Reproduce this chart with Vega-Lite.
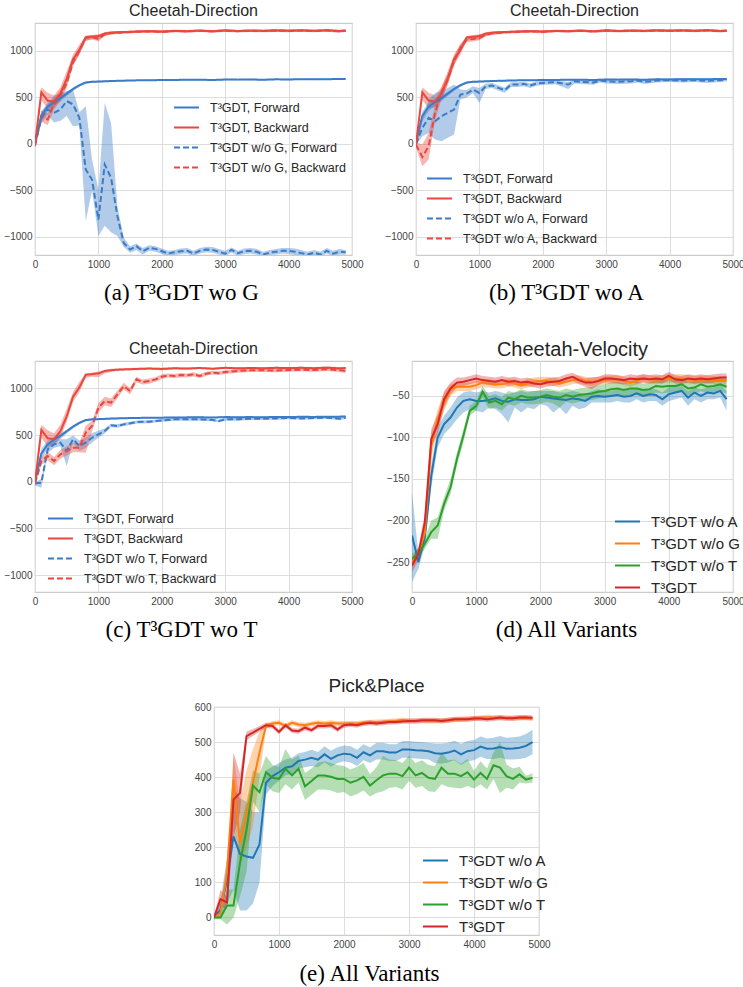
{
"$schema":"https://vega.github.io/schema/vega-lite/v6.json",
"background":"white",
"padding":{"left":3,"top":2,"right":0,"bottom":0},
"config":{
 "view":{"stroke":"#cccccc","strokeWidth":1.2},
 "font":"Liberation Sans",
 "axis":{"labelFont":"Liberation Sans","labelFontSize":10,"labelColor":"#444444","ticks":false,"domain":false,"gridColor":"#dddddd","gridWidth":1,"labelPadding":3,"titleFont":"Liberation Serif","titleFontSize":23,"titleFontWeight":"normal","titleColor":"#000000","titleAlign":"center","titleBaseline":"alphabetic"},
 "axisX":{"labelPadding":4,"labelFlush":false},
 "legend":{"orient":"none","padding":0,"symbolType":"stroke","symbolSize":625,"symbolStrokeWidth":2,"labelFont":"Liberation Sans","labelFontSize":12.5,"labelColor":"#262626","labelOffset":10,"rowPadding":-8},
 "title":{"font":"Liberation Sans","fontWeight":"normal","color":"#262626","fontSize":16,"offset":4,"baseline":"alphabetic"}
},
"datasets":{
"base":[
{"s":"F","x":0,"y":10,"lo":-10,"hi":30},{"s":"F","x":100,"y":300,"lo":240,"hi":350},{"s":"F","x":200,"y":400,"lo":350,"hi":440},{"s":"F","x":300,"y":450,"lo":410,"hi":485},{"s":"F","x":400,"y":490,"lo":455,"hi":520},{"s":"F","x":500,"y":540,"lo":515,"hi":560},{"s":"F","x":600,"y":590,"lo":570,"hi":605},{"s":"F","x":700,"y":630,"lo":615,"hi":645},{"s":"F","x":800,"y":660,"lo":648,"hi":672},{"s":"F","x":900,"y":668,"lo":658,"hi":678},{"s":"F","x":1000,"y":670,"lo":660,"hi":680},{"s":"F","x":1200,"y":676,"lo":667,"hi":685},{"s":"F","x":1400,"y":680,"lo":672,"hi":688},{"s":"F","x":1600,"y":683,"lo":675,"hi":691},{"s":"F","x":1800,"y":685,"lo":677,"hi":693},{"s":"F","x":2000,"y":686,"lo":678,"hi":694},{"s":"F","x":2200,"y":688,"lo":680,"hi":696},{"s":"F","x":2400,"y":689,"lo":681,"hi":697},{"s":"F","x":2600,"y":690,"lo":682,"hi":698},{"s":"F","x":2800,"y":687,"lo":679,"hi":695},{"s":"F","x":3000,"y":692,"lo":684,"hi":700},{"s":"F","x":3200,"y":691,"lo":683,"hi":699},{"s":"F","x":3400,"y":692,"lo":684,"hi":700},{"s":"F","x":3600,"y":690,"lo":682,"hi":698},{"s":"F","x":3800,"y":694,"lo":686,"hi":702},{"s":"F","x":4000,"y":693,"lo":685,"hi":701},{"s":"F","x":4200,"y":695,"lo":687,"hi":703},{"s":"F","x":4400,"y":694,"lo":686,"hi":702},{"s":"F","x":4600,"y":696,"lo":688,"hi":704},{"s":"F","x":4800,"y":697,"lo":689,"hi":705},{"s":"F","x":4900,"y":698,"lo":690,"hi":706},
{"s":"B","x":0,"y":-5,"lo":-40,"hi":30},{"s":"B","x":100,"y":555,"lo":470,"hi":610},{"s":"B","x":200,"y":465,"lo":380,"hi":550},{"s":"B","x":300,"y":455,"lo":390,"hi":520},{"s":"B","x":400,"y":540,"lo":470,"hi":610},{"s":"B","x":500,"y":700,"lo":640,"hi":780},{"s":"B","x":600,"y":910,"lo":850,"hi":960},{"s":"B","x":700,"y":1010,"lo":960,"hi":1070},{"s":"B","x":800,"y":1145,"lo":1110,"hi":1160},{"s":"B","x":900,"y":1152,"lo":1125,"hi":1170},{"s":"B","x":1000,"y":1160,"lo":1120,"hi":1180},{"s":"B","x":1100,"y":1185,"lo":1160,"hi":1200},{"s":"B","x":1200,"y":1195,"lo":1175,"hi":1210},{"s":"B","x":1300,"y":1200,"lo":1185,"hi":1212},{"s":"B","x":1400,"y":1203,"lo":1190,"hi":1215},{"s":"B","x":1500,"y":1205,"lo":1192,"hi":1218},{"s":"B","x":1600,"y":1208,"lo":1195,"hi":1220},{"s":"B","x":1800,"y":1212,"lo":1200,"hi":1224},{"s":"B","x":2000,"y":1208,"lo":1194,"hi":1220},{"s":"B","x":2200,"y":1215,"lo":1203,"hi":1227},{"s":"B","x":2400,"y":1212,"lo":1200,"hi":1224},{"s":"B","x":2600,"y":1218,"lo":1206,"hi":1230},{"s":"B","x":2800,"y":1210,"lo":1198,"hi":1222},{"s":"B","x":3000,"y":1220,"lo":1208,"hi":1232},{"s":"B","x":3200,"y":1214,"lo":1202,"hi":1226},{"s":"B","x":3400,"y":1218,"lo":1206,"hi":1230},{"s":"B","x":3600,"y":1215,"lo":1203,"hi":1227},{"s":"B","x":3800,"y":1220,"lo":1208,"hi":1232},{"s":"B","x":4000,"y":1217,"lo":1205,"hi":1229},{"s":"B","x":4200,"y":1220,"lo":1208,"hi":1232},{"s":"B","x":4400,"y":1216,"lo":1204,"hi":1228},{"s":"B","x":4600,"y":1222,"lo":1210,"hi":1234},{"s":"B","x":4800,"y":1214,"lo":1200,"hi":1228},{"s":"B","x":4900,"y":1218,"lo":1206,"hi":1230}
],
"woG":[
{"s":"VF","x":0,"y":-5,"lo":-40,"hi":30},{"s":"VF","x":100,"y":280,"lo":220,"hi":340},{"s":"VF","x":200,"y":370,"lo":310,"hi":430},{"s":"VF","x":300,"y":333,"lo":230,"hi":520},{"s":"VF","x":400,"y":370,"lo":250,"hi":540},{"s":"VF","x":500,"y":460,"lo":300,"hi":570},{"s":"VF","x":600,"y":425,"lo":190,"hi":585},{"s":"VF","x":700,"y":280,"lo":200,"hi":340},{"s":"VF","x":800,"y":-275,"lo":-830,"hi":405},{"s":"VF","x":900,"y":-385,"lo":-500,"hi":-170},{"s":"VF","x":1000,"y":-815,"lo":-990,"hi":-490},{"s":"VF","x":1100,"y":-222,"lo":-880,"hi":440},{"s":"VF","x":1200,"y":-365,"lo":-950,"hi":225},{"s":"VF","x":1300,"y":-778,"lo":-990,"hi":-670},{"s":"VF","x":1400,"y":-1065,"lo":-1110,"hi":-1010},{"s":"VF","x":1500,"y":-1136,"lo":-1170,"hi":-1100},{"s":"VF","x":1600,"y":-1100,"lo":-1140,"hi":-1070},{"s":"VF","x":1700,"y":-1154,"lo":-1190,"hi":-1120},{"s":"VF","x":1800,"y":-1118,"lo":-1150,"hi":-1090},{"s":"VF","x":1900,"y":-1129,"lo":-1160,"hi":-1100},{"s":"VF","x":2000,"y":-1154,"lo":-1185,"hi":-1125},{"s":"VF","x":2100,"y":-1179,"lo":-1200,"hi":-1150},{"s":"VF","x":2200,"y":-1165,"lo":-1195,"hi":-1140},{"s":"VF","x":2300,"y":-1154,"lo":-1185,"hi":-1125},{"s":"VF","x":2400,"y":-1150,"lo":-1180,"hi":-1120},{"s":"VF","x":2500,"y":-1179,"lo":-1205,"hi":-1150},{"s":"VF","x":2600,"y":-1150,"lo":-1180,"hi":-1120},{"s":"VF","x":2700,"y":-1136,"lo":-1165,"hi":-1105},{"s":"VF","x":2800,"y":-1140,"lo":-1170,"hi":-1110},{"s":"VF","x":2900,"y":-1160,"lo":-1190,"hi":-1130},{"s":"VF","x":3000,"y":-1180,"lo":-1205,"hi":-1150},{"s":"VF","x":3100,"y":-1140,"lo":-1170,"hi":-1115},{"s":"VF","x":3200,"y":-1175,"lo":-1200,"hi":-1150},{"s":"VF","x":3300,"y":-1154,"lo":-1185,"hi":-1125},{"s":"VF","x":3400,"y":-1150,"lo":-1180,"hi":-1120},{"s":"VF","x":3500,"y":-1160,"lo":-1190,"hi":-1130},{"s":"VF","x":3600,"y":-1190,"lo":-1210,"hi":-1160},{"s":"VF","x":3700,"y":-1170,"lo":-1195,"hi":-1140},{"s":"VF","x":3800,"y":-1160,"lo":-1190,"hi":-1130},{"s":"VF","x":3900,"y":-1150,"lo":-1180,"hi":-1120},{"s":"VF","x":4000,"y":-1150,"lo":-1185,"hi":-1120},{"s":"VF","x":4100,"y":-1160,"lo":-1195,"hi":-1125},{"s":"VF","x":4200,"y":-1175,"lo":-1205,"hi":-1140},{"s":"VF","x":4300,"y":-1190,"lo":-1210,"hi":-1160},{"s":"VF","x":4400,"y":-1170,"lo":-1200,"hi":-1140},{"s":"VF","x":4500,"y":-1190,"lo":-1210,"hi":-1160},{"s":"VF","x":4600,"y":-1150,"lo":-1180,"hi":-1120},{"s":"VF","x":4700,"y":-1180,"lo":-1205,"hi":-1150},{"s":"VF","x":4800,"y":-1160,"lo":-1190,"hi":-1130},{"s":"VF","x":4900,"y":-1165,"lo":-1190,"hi":-1140},
{"s":"VB","x":0,"y":-20,"lo":-50,"hi":10},{"s":"VB","x":100,"y":300,"lo":240,"hi":360},{"s":"VB","x":200,"y":262,"lo":200,"hi":330},{"s":"VB","x":300,"y":430,"lo":370,"hi":490},{"s":"VB","x":400,"y":520,"lo":460,"hi":580},{"s":"VB","x":500,"y":650,"lo":600,"hi":700},{"s":"VB","x":600,"y":880,"lo":840,"hi":920},{"s":"VB","x":700,"y":1000,"lo":960,"hi":1040},{"s":"VB","x":800,"y":1140,"lo":1110,"hi":1165},{"s":"VB","x":900,"y":1150,"lo":1125,"hi":1170},{"s":"VB","x":1000,"y":1130,"lo":1100,"hi":1160},{"s":"VB","x":1100,"y":1180,"lo":1160,"hi":1200},{"s":"VB","x":1200,"y":1192,"lo":1175,"hi":1208},{"s":"VB","x":1400,"y":1200,"lo":1185,"hi":1214},{"s":"VB","x":1600,"y":1206,"lo":1192,"hi":1220},{"s":"VB","x":1800,"y":1210,"lo":1196,"hi":1224},{"s":"VB","x":2000,"y":1205,"lo":1190,"hi":1220},{"s":"VB","x":2200,"y":1214,"lo":1200,"hi":1228},{"s":"VB","x":2400,"y":1210,"lo":1196,"hi":1224},{"s":"VB","x":2600,"y":1216,"lo":1202,"hi":1230},{"s":"VB","x":2800,"y":1212,"lo":1198,"hi":1226},{"s":"VB","x":3000,"y":1218,"lo":1204,"hi":1232},{"s":"VB","x":3200,"y":1212,"lo":1198,"hi":1226},{"s":"VB","x":3400,"y":1216,"lo":1202,"hi":1230},{"s":"VB","x":3600,"y":1214,"lo":1200,"hi":1228},{"s":"VB","x":3800,"y":1218,"lo":1204,"hi":1232},{"s":"VB","x":4000,"y":1215,"lo":1201,"hi":1229},{"s":"VB","x":4200,"y":1219,"lo":1205,"hi":1233},{"s":"VB","x":4400,"y":1214,"lo":1200,"hi":1228},{"s":"VB","x":4600,"y":1220,"lo":1206,"hi":1234},{"s":"VB","x":4800,"y":1210,"lo":1196,"hi":1224},{"s":"VB","x":4900,"y":1216,"lo":1202,"hi":1230}
],
"woA":[
{"s":"VF","x":0,"y":0,"lo":-20,"hi":20},{"s":"VF","x":100,"y":172,"lo":82,"hi":262},{"s":"VF","x":200,"y":280,"lo":118,"hi":477},{"s":"VF","x":300,"y":244,"lo":47,"hi":548},{"s":"VF","x":400,"y":297,"lo":29,"hi":566},{"s":"VF","x":500,"y":333,"lo":65,"hi":602},{"s":"VF","x":600,"y":369,"lo":100,"hi":638},{"s":"VF","x":700,"y":530,"lo":477,"hi":584},{"s":"VF","x":800,"y":541,"lo":500,"hi":580},{"s":"VF","x":900,"y":584,"lo":545,"hi":620},{"s":"VF","x":1000,"y":548,"lo":441,"hi":600},{"s":"VF","x":1100,"y":620,"lo":590,"hi":650},{"s":"VF","x":1200,"y":627,"lo":600,"hi":655},{"s":"VF","x":1300,"y":602,"lo":575,"hi":630},{"s":"VF","x":1400,"y":577,"lo":550,"hi":605},{"s":"VF","x":1500,"y":638,"lo":612,"hi":662},{"s":"VF","x":1600,"y":638,"lo":612,"hi":662},{"s":"VF","x":1700,"y":645,"lo":620,"hi":668},{"s":"VF","x":1800,"y":627,"lo":600,"hi":652},{"s":"VF","x":1900,"y":649,"lo":625,"hi":672},{"s":"VF","x":2000,"y":656,"lo":632,"hi":678},{"s":"VF","x":2200,"y":663,"lo":640,"hi":685},{"s":"VF","x":2400,"y":638,"lo":590,"hi":665},{"s":"VF","x":2500,"y":674,"lo":650,"hi":696},{"s":"VF","x":2600,"y":667,"lo":645,"hi":690},{"s":"VF","x":2800,"y":660,"lo":635,"hi":684},{"s":"VF","x":2900,"y":681,"lo":660,"hi":702},{"s":"VF","x":3000,"y":674,"lo":650,"hi":696},{"s":"VF","x":3200,"y":667,"lo":645,"hi":690},{"s":"VF","x":3400,"y":674,"lo":650,"hi":696},{"s":"VF","x":3500,"y":681,"lo":660,"hi":702},{"s":"VF","x":3600,"y":667,"lo":645,"hi":690},{"s":"VF","x":3800,"y":681,"lo":660,"hi":702},{"s":"VF","x":4000,"y":685,"lo":665,"hi":705},{"s":"VF","x":4200,"y":681,"lo":660,"hi":702},{"s":"VF","x":4400,"y":685,"lo":665,"hi":705},{"s":"VF","x":4600,"y":678,"lo":655,"hi":700},{"s":"VF","x":4800,"y":685,"lo":665,"hi":705},{"s":"VF","x":4900,"y":692,"lo":672,"hi":712},
{"s":"VB","x":0,"y":-10,"lo":-40,"hi":20},{"s":"VB","x":100,"y":-140,"lo":-240,"hi":-7},{"s":"VB","x":200,"y":-25,"lo":-168,"hi":118},{"s":"VB","x":300,"y":333,"lo":250,"hi":420},{"s":"VB","x":400,"y":548,"lo":480,"hi":610},{"s":"VB","x":500,"y":692,"lo":630,"hi":750},{"s":"VB","x":600,"y":889,"lo":840,"hi":940},{"s":"VB","x":700,"y":1032,"lo":990,"hi":1075},{"s":"VB","x":800,"y":1122,"lo":1095,"hi":1150},{"s":"VB","x":900,"y":1129,"lo":1100,"hi":1155},{"s":"VB","x":1000,"y":1140,"lo":1115,"hi":1165},{"s":"VB","x":1100,"y":1175,"lo":1155,"hi":1195},{"s":"VB","x":1200,"y":1190,"lo":1172,"hi":1206},{"s":"VB","x":1400,"y":1200,"lo":1185,"hi":1214},{"s":"VB","x":1600,"y":1205,"lo":1190,"hi":1220},{"s":"VB","x":1800,"y":1210,"lo":1196,"hi":1224},{"s":"VB","x":2000,"y":1206,"lo":1190,"hi":1220},{"s":"VB","x":2200,"y":1214,"lo":1200,"hi":1228},{"s":"VB","x":2400,"y":1211,"lo":1197,"hi":1225},{"s":"VB","x":2600,"y":1216,"lo":1202,"hi":1230},{"s":"VB","x":2800,"y":1210,"lo":1196,"hi":1224},{"s":"VB","x":3000,"y":1218,"lo":1204,"hi":1232},{"s":"VB","x":3200,"y":1213,"lo":1199,"hi":1227},{"s":"VB","x":3400,"y":1217,"lo":1203,"hi":1231},{"s":"VB","x":3600,"y":1214,"lo":1200,"hi":1228},{"s":"VB","x":3800,"y":1219,"lo":1205,"hi":1233},{"s":"VB","x":4000,"y":1216,"lo":1202,"hi":1230},{"s":"VB","x":4200,"y":1219,"lo":1205,"hi":1233},{"s":"VB","x":4400,"y":1215,"lo":1201,"hi":1229},{"s":"VB","x":4600,"y":1221,"lo":1207,"hi":1235},{"s":"VB","x":4800,"y":1212,"lo":1198,"hi":1226},{"s":"VB","x":4900,"y":1217,"lo":1203,"hi":1231}
],
"woT":[
{"s":"VF","x":0,"y":-18,"lo":-40,"hi":0},{"s":"VF","x":100,"y":-11,"lo":-64,"hi":25},{"s":"VF","x":200,"y":346,"lo":310,"hi":380},{"s":"VF","x":300,"y":400,"lo":360,"hi":440},{"s":"VF","x":400,"y":418,"lo":380,"hi":455},{"s":"VF","x":500,"y":329,"lo":168,"hi":454},{"s":"VF","x":600,"y":454,"lo":410,"hi":495},{"s":"VF","x":700,"y":382,"lo":330,"hi":440},{"s":"VF","x":800,"y":418,"lo":360,"hi":475},{"s":"VF","x":900,"y":471,"lo":420,"hi":520},{"s":"VF","x":1000,"y":507,"lo":470,"hi":545},{"s":"VF","x":1100,"y":543,"lo":515,"hi":570},{"s":"VF","x":1200,"y":604,"lo":585,"hi":622},{"s":"VF","x":1300,"y":596,"lo":578,"hi":614},{"s":"VF","x":1400,"y":614,"lo":597,"hi":631},{"s":"VF","x":1500,"y":625,"lo":608,"hi":642},{"s":"VF","x":1600,"y":639,"lo":623,"hi":655},{"s":"VF","x":1800,"y":643,"lo":627,"hi":659},{"s":"VF","x":2000,"y":657,"lo":642,"hi":672},{"s":"VF","x":2200,"y":668,"lo":654,"hi":682},{"s":"VF","x":2400,"y":668,"lo":654,"hi":682},{"s":"VF","x":2600,"y":668,"lo":654,"hi":682},{"s":"VF","x":2800,"y":661,"lo":647,"hi":675},{"s":"VF","x":2900,"y":650,"lo":636,"hi":664},{"s":"VF","x":3000,"y":668,"lo":654,"hi":682},{"s":"VF","x":3200,"y":668,"lo":654,"hi":682},{"s":"VF","x":3400,"y":675,"lo":661,"hi":689},{"s":"VF","x":3600,"y":675,"lo":661,"hi":689},{"s":"VF","x":3800,"y":678,"lo":664,"hi":692},{"s":"VF","x":4000,"y":682,"lo":668,"hi":696},{"s":"VF","x":4200,"y":678,"lo":664,"hi":692},{"s":"VF","x":4400,"y":682,"lo":668,"hi":696},{"s":"VF","x":4600,"y":686,"lo":672,"hi":700},{"s":"VF","x":4800,"y":675,"lo":661,"hi":689},{"s":"VF","x":4900,"y":686,"lo":672,"hi":700},
{"s":"VB","x":0,"y":-20,"lo":-50,"hi":10},{"s":"VB","x":100,"y":221,"lo":180,"hi":260},{"s":"VB","x":200,"y":275,"lo":230,"hi":320},{"s":"VB","x":300,"y":221,"lo":175,"hi":265},{"s":"VB","x":400,"y":293,"lo":245,"hi":340},{"s":"VB","x":500,"y":329,"lo":280,"hi":380},{"s":"VB","x":600,"y":364,"lo":315,"hi":415},{"s":"VB","x":700,"y":364,"lo":315,"hi":415},{"s":"VB","x":800,"y":525,"lo":311,"hi":600},{"s":"VB","x":900,"y":596,"lo":540,"hi":650},{"s":"VB","x":1000,"y":793,"lo":740,"hi":840},{"s":"VB","x":1100,"y":864,"lo":820,"hi":910},{"s":"VB","x":1200,"y":846,"lo":800,"hi":890},{"s":"VB","x":1300,"y":936,"lo":895,"hi":975},{"s":"VB","x":1400,"y":1025,"lo":990,"hi":1060},{"s":"VB","x":1500,"y":971,"lo":935,"hi":1005},{"s":"VB","x":1600,"y":1096,"lo":1065,"hi":1125},{"s":"VB","x":1700,"y":1068,"lo":1040,"hi":1095},{"s":"VB","x":1800,"y":1079,"lo":1050,"hi":1105},{"s":"VB","x":1900,"y":1096,"lo":1070,"hi":1120},{"s":"VB","x":2000,"y":1125,"lo":1100,"hi":1150},{"s":"VB","x":2100,"y":1139,"lo":1115,"hi":1160},{"s":"VB","x":2200,"y":1132,"lo":1108,"hi":1155},{"s":"VB","x":2300,"y":1143,"lo":1120,"hi":1165},{"s":"VB","x":2400,"y":1139,"lo":1115,"hi":1160},{"s":"VB","x":2500,"y":1150,"lo":1128,"hi":1172},{"s":"VB","x":2600,"y":1132,"lo":1110,"hi":1155},{"s":"VB","x":2700,"y":1157,"lo":1135,"hi":1178},{"s":"VB","x":2800,"y":1168,"lo":1148,"hi":1188},{"s":"VB","x":2900,"y":1162,"lo":1142,"hi":1182},{"s":"VB","x":3000,"y":1175,"lo":1155,"hi":1195},{"s":"VB","x":3200,"y":1186,"lo":1166,"hi":1205},{"s":"VB","x":3400,"y":1193,"lo":1175,"hi":1210},{"s":"VB","x":3600,"y":1193,"lo":1175,"hi":1210},{"s":"VB","x":3800,"y":1190,"lo":1172,"hi":1208},{"s":"VB","x":4000,"y":1196,"lo":1178,"hi":1214},{"s":"VB","x":4200,"y":1200,"lo":1182,"hi":1218},{"s":"VB","x":4400,"y":1196,"lo":1178,"hi":1214},{"s":"VB","x":4600,"y":1204,"lo":1186,"hi":1222},{"s":"VB","x":4800,"y":1193,"lo":1175,"hi":1211},{"s":"VB","x":4900,"y":1189,"lo":1165,"hi":1210}
],
"vel":[
{"s":"A","x":0,"y":-218,"lo":-274,"hi":-166},{"s":"A","x":100,"y":-250,"lo":-258,"hi":-240},{"s":"A","x":200,"y":-220,"lo":-230,"hi":-210},{"s":"A","x":300,"y":-146,"lo":-160,"hi":-132},{"s":"A","x":400,"y":-100,"lo":-112,"hi":-88},{"s":"A","x":500,"y":-84,"lo":-96,"hi":-74},{"s":"A","x":600,"y":-76,"lo":-88,"hi":-64},{"s":"A","x":700,"y":-64,"lo":-78,"hi":-52},{"s":"A","x":800,"y":-56,"lo":-70,"hi":-46},{"s":"A","x":900,"y":-54,"lo":-66,"hi":-44},{"s":"A","x":1000,"y":-56,"lo":-68,"hi":-46},{"s":"A","x":1100,"y":-56,"lo":-70,"hi":-44},{"s":"A","x":1200,"y":-55,"lo":-64,"hi":-46},{"s":"A","x":1300,"y":-53,"lo":-66,"hi":-44},{"s":"A","x":1400,"y":-56,"lo":-72,"hi":-46},{"s":"A","x":1500,"y":-57,"lo":-82,"hi":-48},{"s":"A","x":1600,"y":-54,"lo":-64,"hi":-46},{"s":"A","x":1700,"y":-55,"lo":-70,"hi":-44},{"s":"A","x":1800,"y":-55,"lo":-64,"hi":-46},{"s":"A","x":1900,"y":-54,"lo":-66,"hi":-44},{"s":"A","x":2000,"y":-51,"lo":-60,"hi":-44},{"s":"A","x":2100,"y":-52,"lo":-62,"hi":-44},{"s":"A","x":2200,"y":-53,"lo":-70,"hi":-44},{"s":"A","x":2300,"y":-54,"lo":-64,"hi":-46},{"s":"A","x":2400,"y":-55,"lo":-72,"hi":-46},{"s":"A","x":2500,"y":-53,"lo":-62,"hi":-44},{"s":"A","x":2600,"y":-54,"lo":-66,"hi":-46},{"s":"A","x":2700,"y":-56,"lo":-64,"hi":-48},{"s":"A","x":2800,"y":-51,"lo":-58,"hi":-44},{"s":"A","x":2900,"y":-50,"lo":-58,"hi":-42},{"s":"A","x":3000,"y":-51,"lo":-58,"hi":-44},{"s":"A","x":3100,"y":-50,"lo":-58,"hi":-44},{"s":"A","x":3200,"y":-49,"lo":-56,"hi":-42},{"s":"A","x":3300,"y":-51,"lo":-58,"hi":-44},{"s":"A","x":3400,"y":-50,"lo":-58,"hi":-42},{"s":"A","x":3500,"y":-47,"lo":-54,"hi":-40},{"s":"A","x":3600,"y":-50,"lo":-58,"hi":-42},{"s":"A","x":3700,"y":-48,"lo":-56,"hi":-42},{"s":"A","x":3800,"y":-49,"lo":-56,"hi":-42},{"s":"A","x":3900,"y":-54,"lo":-62,"hi":-46},{"s":"A","x":4000,"y":-48,"lo":-56,"hi":-40},{"s":"A","x":4100,"y":-46,"lo":-54,"hi":-38},{"s":"A","x":4200,"y":-44,"lo":-52,"hi":-38},{"s":"A","x":4300,"y":-52,"lo":-62,"hi":-44},{"s":"A","x":4400,"y":-46,"lo":-54,"hi":-40},{"s":"A","x":4500,"y":-50,"lo":-58,"hi":-42},{"s":"A","x":4600,"y":-46,"lo":-54,"hi":-40},{"s":"A","x":4700,"y":-47,"lo":-54,"hi":-40},{"s":"A","x":4800,"y":-44,"lo":-52,"hi":-36},{"s":"A","x":4900,"y":-54,"lo":-68,"hi":-44},
{"s":"G","x":0,"y":-250,"lo":-256,"hi":-244},{"s":"G","x":100,"y":-240,"lo":-246,"hi":-234},{"s":"G","x":200,"y":-215,"lo":-222,"hi":-205},{"s":"G","x":300,"y":-110,"lo":-125,"hi":-95},{"s":"G","x":400,"y":-78,"lo":-90,"hi":-66},{"s":"G","x":500,"y":-58,"lo":-68,"hi":-46},{"s":"G","x":600,"y":-42,"lo":-50,"hi":-36},{"s":"G","x":700,"y":-39,"lo":-44,"hi":-34},{"s":"G","x":800,"y":-39,"lo":-44,"hi":-34},{"s":"G","x":900,"y":-39,"lo":-44,"hi":-34},{"s":"G","x":1000,"y":-37,"lo":-42,"hi":-32},{"s":"G","x":1100,"y":-34,"lo":-40,"hi":-30},{"s":"G","x":1200,"y":-35,"lo":-40,"hi":-30},{"s":"G","x":1300,"y":-36,"lo":-41,"hi":-31},{"s":"G","x":1400,"y":-36,"lo":-41,"hi":-31},{"s":"G","x":1500,"y":-34,"lo":-39,"hi":-29},{"s":"G","x":1600,"y":-35,"lo":-40,"hi":-30},{"s":"G","x":1700,"y":-37,"lo":-42,"hi":-32},{"s":"G","x":1800,"y":-35,"lo":-40,"hi":-30},{"s":"G","x":1900,"y":-33,"lo":-38,"hi":-28},{"s":"G","x":2000,"y":-32,"lo":-37,"hi":-27},{"s":"G","x":2100,"y":-32,"lo":-37,"hi":-27},{"s":"G","x":2200,"y":-33,"lo":-38,"hi":-28},{"s":"G","x":2300,"y":-35,"lo":-40,"hi":-30},{"s":"G","x":2400,"y":-33,"lo":-38,"hi":-28},{"s":"G","x":2500,"y":-31,"lo":-36,"hi":-26},{"s":"G","x":2600,"y":-30,"lo":-35,"hi":-25},{"s":"G","x":2700,"y":-32,"lo":-37,"hi":-27},{"s":"G","x":2800,"y":-33,"lo":-38,"hi":-28},{"s":"G","x":2900,"y":-32,"lo":-37,"hi":-27},{"s":"G","x":3000,"y":-31,"lo":-36,"hi":-26},{"s":"G","x":3200,"y":-30,"lo":-35,"hi":-25},{"s":"G","x":3400,"y":-34,"lo":-39,"hi":-29},{"s":"G","x":3600,"y":-29,"lo":-34,"hi":-24},{"s":"G","x":3800,"y":-31,"lo":-36,"hi":-26},{"s":"G","x":4000,"y":-29,"lo":-34,"hi":-24},{"s":"G","x":4200,"y":-29,"lo":-34,"hi":-24},{"s":"G","x":4400,"y":-31,"lo":-36,"hi":-26},{"s":"G","x":4600,"y":-30,"lo":-35,"hi":-25},{"s":"G","x":4800,"y":-32,"lo":-37,"hi":-27},{"s":"G","x":4900,"y":-31,"lo":-36,"hi":-26},
{"s":"T","x":0,"y":-246,"lo":-252,"hi":-240},{"s":"T","x":100,"y":-240,"lo":-246,"hi":-234},{"s":"T","x":200,"y":-228,"lo":-234,"hi":-222},{"s":"T","x":300,"y":-214,"lo":-222,"hi":-200},{"s":"T","x":400,"y":-206,"lo":-222,"hi":-196},{"s":"T","x":500,"y":-180,"lo":-188,"hi":-172},{"s":"T","x":600,"y":-160,"lo":-168,"hi":-150},{"s":"T","x":700,"y":-126,"lo":-134,"hi":-118},{"s":"T","x":800,"y":-98,"lo":-106,"hi":-90},{"s":"T","x":900,"y":-68,"lo":-74,"hi":-62},{"s":"T","x":1000,"y":-62,"lo":-68,"hi":-56},{"s":"T","x":1100,"y":-45,"lo":-52,"hi":-38},{"s":"T","x":1200,"y":-58,"lo":-66,"hi":-50},{"s":"T","x":1300,"y":-56,"lo":-64,"hi":-48},{"s":"T","x":1400,"y":-60,"lo":-68,"hi":-52},{"s":"T","x":1500,"y":-52,"lo":-60,"hi":-44},{"s":"T","x":1600,"y":-54,"lo":-62,"hi":-46},{"s":"T","x":1700,"y":-50,"lo":-58,"hi":-42},{"s":"T","x":1800,"y":-52,"lo":-60,"hi":-44},{"s":"T","x":1900,"y":-52,"lo":-60,"hi":-44},{"s":"T","x":2000,"y":-51,"lo":-59,"hi":-43},{"s":"T","x":2100,"y":-49,"lo":-57,"hi":-41},{"s":"T","x":2200,"y":-51,"lo":-59,"hi":-43},{"s":"T","x":2300,"y":-52,"lo":-64,"hi":-44},{"s":"T","x":2400,"y":-49,"lo":-57,"hi":-41},{"s":"T","x":2500,"y":-51,"lo":-59,"hi":-43},{"s":"T","x":2600,"y":-49,"lo":-57,"hi":-41},{"s":"T","x":2700,"y":-48,"lo":-56,"hi":-40},{"s":"T","x":2800,"y":-47,"lo":-55,"hi":-39},{"s":"T","x":2900,"y":-45,"lo":-53,"hi":-37},{"s":"T","x":3000,"y":-44,"lo":-52,"hi":-36},{"s":"T","x":3100,"y":-42,"lo":-50,"hi":-34},{"s":"T","x":3200,"y":-41,"lo":-49,"hi":-33},{"s":"T","x":3300,"y":-43,"lo":-51,"hi":-35},{"s":"T","x":3400,"y":-41,"lo":-49,"hi":-33},{"s":"T","x":3500,"y":-41,"lo":-49,"hi":-33},{"s":"T","x":3600,"y":-43,"lo":-51,"hi":-35},{"s":"T","x":3700,"y":-42,"lo":-50,"hi":-34},{"s":"T","x":3800,"y":-38,"lo":-46,"hi":-30},{"s":"T","x":3900,"y":-39,"lo":-47,"hi":-31},{"s":"T","x":4000,"y":-38,"lo":-46,"hi":-30},{"s":"T","x":4100,"y":-38,"lo":-46,"hi":-30},{"s":"T","x":4200,"y":-36,"lo":-44,"hi":-28},{"s":"T","x":4300,"y":-41,"lo":-49,"hi":-33},{"s":"T","x":4400,"y":-40,"lo":-48,"hi":-32},{"s":"T","x":4500,"y":-36,"lo":-44,"hi":-28},{"s":"T","x":4600,"y":-39,"lo":-47,"hi":-31},{"s":"T","x":4700,"y":-38,"lo":-46,"hi":-30},{"s":"T","x":4800,"y":-36,"lo":-44,"hi":-28},{"s":"T","x":4900,"y":-39,"lo":-47,"hi":-31},
{"s":"R","x":0,"y":-254,"lo":-262,"hi":-246},{"s":"R","x":100,"y":-240,"lo":-248,"hi":-232},{"s":"R","x":200,"y":-202,"lo":-212,"hi":-192},{"s":"R","x":300,"y":-102,"lo":-112,"hi":-90},{"s":"R","x":400,"y":-84,"lo":-96,"hi":-72},{"s":"R","x":500,"y":-54,"lo":-64,"hi":-44},{"s":"R","x":600,"y":-41,"lo":-48,"hi":-34},{"s":"R","x":700,"y":-34,"lo":-40,"hi":-28},{"s":"R","x":800,"y":-33,"lo":-38,"hi":-28},{"s":"R","x":900,"y":-31,"lo":-36,"hi":-26},{"s":"R","x":1000,"y":-29,"lo":-34,"hi":-24},{"s":"R","x":1100,"y":-31,"lo":-36,"hi":-26},{"s":"R","x":1200,"y":-32,"lo":-37,"hi":-27},{"s":"R","x":1300,"y":-33,"lo":-38,"hi":-28},{"s":"R","x":1400,"y":-31,"lo":-36,"hi":-26},{"s":"R","x":1500,"y":-33,"lo":-38,"hi":-28},{"s":"R","x":1600,"y":-32,"lo":-37,"hi":-27},{"s":"R","x":1700,"y":-34,"lo":-39,"hi":-29},{"s":"R","x":1800,"y":-33,"lo":-38,"hi":-28},{"s":"R","x":1900,"y":-35,"lo":-40,"hi":-30},{"s":"R","x":2000,"y":-36,"lo":-41,"hi":-31},{"s":"R","x":2100,"y":-34,"lo":-39,"hi":-29},{"s":"R","x":2200,"y":-33,"lo":-38,"hi":-28},{"s":"R","x":2300,"y":-32,"lo":-37,"hi":-27},{"s":"R","x":2400,"y":-29,"lo":-34,"hi":-24},{"s":"R","x":2500,"y":-27,"lo":-32,"hi":-22},{"s":"R","x":2600,"y":-31,"lo":-36,"hi":-26},{"s":"R","x":2700,"y":-34,"lo":-39,"hi":-29},{"s":"R","x":2800,"y":-34,"lo":-42,"hi":-28},{"s":"R","x":2900,"y":-32,"lo":-37,"hi":-27},{"s":"R","x":3000,"y":-29,"lo":-34,"hi":-24},{"s":"R","x":3100,"y":-29,"lo":-34,"hi":-24},{"s":"R","x":3200,"y":-30,"lo":-35,"hi":-25},{"s":"R","x":3300,"y":-31,"lo":-36,"hi":-26},{"s":"R","x":3400,"y":-29,"lo":-34,"hi":-24},{"s":"R","x":3500,"y":-30,"lo":-35,"hi":-25},{"s":"R","x":3600,"y":-29,"lo":-34,"hi":-24},{"s":"R","x":3700,"y":-30,"lo":-35,"hi":-25},{"s":"R","x":3800,"y":-29,"lo":-34,"hi":-24},{"s":"R","x":3900,"y":-30,"lo":-35,"hi":-25},{"s":"R","x":4000,"y":-26,"lo":-31,"hi":-21},{"s":"R","x":4100,"y":-30,"lo":-35,"hi":-25},{"s":"R","x":4200,"y":-31,"lo":-36,"hi":-26},{"s":"R","x":4300,"y":-29,"lo":-34,"hi":-24},{"s":"R","x":4400,"y":-30,"lo":-35,"hi":-25},{"s":"R","x":4500,"y":-29,"lo":-34,"hi":-24},{"s":"R","x":4600,"y":-30,"lo":-35,"hi":-25},{"s":"R","x":4700,"y":-29,"lo":-34,"hi":-24},{"s":"R","x":4800,"y":-28,"lo":-33,"hi":-23},{"s":"R","x":4900,"y":-28,"lo":-33,"hi":-23}
],
"pick":[
{"s":"A","x":0,"y":0,"lo":0,"hi":0},{"s":"A","x":100,"y":22,"lo":0,"hi":50},{"s":"A","x":200,"y":108,"lo":40,"hi":170},{"s":"A","x":300,"y":231,"lo":80,"hi":370},{"s":"A","x":400,"y":181,"lo":20,"hi":340},{"s":"A","x":500,"y":174,"lo":20,"hi":330},{"s":"A","x":600,"y":170,"lo":40,"hi":300},{"s":"A","x":700,"y":208,"lo":100,"hi":300},{"s":"A","x":800,"y":384,"lo":350,"hi":420},{"s":"A","x":900,"y":403,"lo":375,"hi":430},{"s":"A","x":1000,"y":414,"lo":390,"hi":440},{"s":"A","x":1100,"y":427,"lo":405,"hi":450},{"s":"A","x":1200,"y":431,"lo":410,"hi":455},{"s":"A","x":1300,"y":446,"lo":425,"hi":468},{"s":"A","x":1400,"y":450,"lo":428,"hi":472},{"s":"A","x":1500,"y":455,"lo":432,"hi":478},{"s":"A","x":1600,"y":450,"lo":428,"hi":472},{"s":"A","x":1700,"y":465,"lo":442,"hi":488},{"s":"A","x":1800,"y":452,"lo":430,"hi":475},{"s":"A","x":1900,"y":462,"lo":440,"hi":485},{"s":"A","x":2000,"y":467,"lo":445,"hi":490},{"s":"A","x":2100,"y":465,"lo":442,"hi":488},{"s":"A","x":2200,"y":455,"lo":432,"hi":478},{"s":"A","x":2300,"y":471,"lo":448,"hi":494},{"s":"A","x":2400,"y":462,"lo":440,"hi":485},{"s":"A","x":2500,"y":474,"lo":450,"hi":498},{"s":"A","x":2600,"y":474,"lo":450,"hi":498},{"s":"A","x":2700,"y":470,"lo":446,"hi":494},{"s":"A","x":2800,"y":470,"lo":446,"hi":494},{"s":"A","x":2900,"y":479,"lo":455,"hi":503},{"s":"A","x":3000,"y":479,"lo":455,"hi":503},{"s":"A","x":3100,"y":477,"lo":453,"hi":501},{"s":"A","x":3200,"y":476,"lo":452,"hi":500},{"s":"A","x":3300,"y":474,"lo":450,"hi":498},{"s":"A","x":3400,"y":468,"lo":440,"hi":496},{"s":"A","x":3500,"y":467,"lo":438,"hi":496},{"s":"A","x":3600,"y":470,"lo":442,"hi":498},{"s":"A","x":3700,"y":476,"lo":448,"hi":504},{"s":"A","x":3800,"y":465,"lo":435,"hi":495},{"s":"A","x":3900,"y":474,"lo":445,"hi":503},{"s":"A","x":4000,"y":477,"lo":448,"hi":506},{"s":"A","x":4100,"y":487,"lo":458,"hi":516},{"s":"A","x":4200,"y":481,"lo":452,"hi":510},{"s":"A","x":4300,"y":482,"lo":452,"hi":512},{"s":"A","x":4400,"y":486,"lo":455,"hi":517},{"s":"A","x":4500,"y":481,"lo":450,"hi":512},{"s":"A","x":4600,"y":482,"lo":450,"hi":514},{"s":"A","x":4700,"y":484,"lo":452,"hi":516},{"s":"A","x":4800,"y":489,"lo":455,"hi":523},{"s":"A","x":4900,"y":500,"lo":465,"hi":535},
{"s":"G","x":0,"y":0,"lo":0,"hi":0},{"s":"G","x":100,"y":12,"lo":2,"hi":22},{"s":"G","x":200,"y":127,"lo":90,"hi":165},{"s":"G","x":300,"y":393,"lo":250,"hi":460},{"s":"G","x":400,"y":212,"lo":150,"hi":330},{"s":"G","x":500,"y":298,"lo":200,"hi":420},{"s":"G","x":600,"y":384,"lo":260,"hi":480},{"s":"G","x":700,"y":470,"lo":400,"hi":530},{"s":"G","x":800,"y":546,"lo":538,"hi":554},{"s":"G","x":900,"y":553,"lo":546,"hi":560},{"s":"G","x":1000,"y":555,"lo":548,"hi":562},{"s":"G","x":1100,"y":546,"lo":539,"hi":553},{"s":"G","x":1200,"y":555,"lo":548,"hi":562},{"s":"G","x":1300,"y":550,"lo":543,"hi":557},{"s":"G","x":1400,"y":548,"lo":541,"hi":555},{"s":"G","x":1500,"y":552,"lo":545,"hi":559},{"s":"G","x":1600,"y":555,"lo":548,"hi":562},{"s":"G","x":1700,"y":553,"lo":546,"hi":560},{"s":"G","x":1800,"y":555,"lo":548,"hi":562},{"s":"G","x":1900,"y":553,"lo":546,"hi":560},{"s":"G","x":2000,"y":553,"lo":546,"hi":560},{"s":"G","x":2200,"y":553,"lo":546,"hi":560},{"s":"G","x":2400,"y":557,"lo":550,"hi":564},{"s":"G","x":2600,"y":558,"lo":551,"hi":565},{"s":"G","x":2800,"y":560,"lo":553,"hi":567},{"s":"G","x":2900,"y":563,"lo":556,"hi":570},{"s":"G","x":3000,"y":560,"lo":553,"hi":567},{"s":"G","x":3200,"y":560,"lo":553,"hi":567},{"s":"G","x":3400,"y":560,"lo":553,"hi":567},{"s":"G","x":3600,"y":562,"lo":555,"hi":569},{"s":"G","x":3800,"y":565,"lo":558,"hi":572},{"s":"G","x":4000,"y":567,"lo":560,"hi":574},{"s":"G","x":4200,"y":571,"lo":564,"hi":578},{"s":"G","x":4400,"y":569,"lo":562,"hi":576},{"s":"G","x":4600,"y":568,"lo":561,"hi":575},{"s":"G","x":4800,"y":569,"lo":562,"hi":576},{"s":"G","x":4900,"y":567,"lo":560,"hi":574},
{"s":"T","x":0,"y":0,"lo":-5,"hi":5},{"s":"T","x":100,"y":0,"lo":-5,"hi":5},{"s":"T","x":200,"y":34,"lo":-20,"hi":80},{"s":"T","x":300,"y":34,"lo":0,"hi":80},{"s":"T","x":400,"y":155,"lo":60,"hi":250},{"s":"T","x":500,"y":250,"lo":130,"hi":330},{"s":"T","x":600,"y":376,"lo":330,"hi":420},{"s":"T","x":700,"y":357,"lo":300,"hi":410},{"s":"T","x":800,"y":414,"lo":380,"hi":460},{"s":"T","x":900,"y":398,"lo":360,"hi":435},{"s":"T","x":1000,"y":395,"lo":355,"hi":430},{"s":"T","x":1100,"y":424,"lo":380,"hi":480},{"s":"T","x":1200,"y":405,"lo":365,"hi":450},{"s":"T","x":1300,"y":424,"lo":385,"hi":462},{"s":"T","x":1400,"y":374,"lo":335,"hi":412},{"s":"T","x":1500,"y":389,"lo":350,"hi":425},{"s":"T","x":1600,"y":405,"lo":365,"hi":442},{"s":"T","x":1700,"y":405,"lo":365,"hi":445},{"s":"T","x":1800,"y":401,"lo":362,"hi":440},{"s":"T","x":1900,"y":395,"lo":355,"hi":435},{"s":"T","x":2000,"y":395,"lo":358,"hi":432},{"s":"T","x":2100,"y":384,"lo":345,"hi":422},{"s":"T","x":2200,"y":391,"lo":352,"hi":430},{"s":"T","x":2300,"y":401,"lo":362,"hi":440},{"s":"T","x":2400,"y":376,"lo":345,"hi":408},{"s":"T","x":2500,"y":391,"lo":355,"hi":428},{"s":"T","x":2600,"y":405,"lo":360,"hi":460},{"s":"T","x":2700,"y":410,"lo":370,"hi":450},{"s":"T","x":2800,"y":410,"lo":372,"hi":448},{"s":"T","x":2900,"y":403,"lo":365,"hi":440},{"s":"T","x":3000,"y":427,"lo":390,"hi":462},{"s":"T","x":3100,"y":405,"lo":370,"hi":440},{"s":"T","x":3200,"y":412,"lo":375,"hi":448},{"s":"T","x":3300,"y":398,"lo":360,"hi":435},{"s":"T","x":3400,"y":395,"lo":358,"hi":432},{"s":"T","x":3500,"y":427,"lo":380,"hi":470},{"s":"T","x":3600,"y":410,"lo":372,"hi":448},{"s":"T","x":3700,"y":410,"lo":370,"hi":450},{"s":"T","x":3800,"y":403,"lo":368,"hi":438},{"s":"T","x":3900,"y":414,"lo":375,"hi":452},{"s":"T","x":4000,"y":393,"lo":368,"hi":418},{"s":"T","x":4100,"y":412,"lo":380,"hi":445},{"s":"T","x":4200,"y":395,"lo":365,"hi":425},{"s":"T","x":4300,"y":434,"lo":395,"hi":470},{"s":"T","x":4400,"y":427,"lo":355,"hi":500},{"s":"T","x":4500,"y":403,"lo":370,"hi":436},{"s":"T","x":4600,"y":395,"lo":365,"hi":425},{"s":"T","x":4700,"y":408,"lo":385,"hi":430},{"s":"T","x":4800,"y":393,"lo":382,"hi":404},{"s":"T","x":4900,"y":398,"lo":385,"hi":411},
{"s":"R","x":0,"y":0,"lo":-5,"hi":5},{"s":"R","x":100,"y":52,"lo":31,"hi":79},{"s":"R","x":200,"y":43,"lo":25,"hi":60},{"s":"R","x":300,"y":336,"lo":230,"hi":470},{"s":"R","x":400,"y":355,"lo":300,"hi":410},{"s":"R","x":500,"y":517,"lo":505,"hi":530},{"s":"R","x":600,"y":527,"lo":517,"hi":537},{"s":"R","x":700,"y":538,"lo":530,"hi":546},{"s":"R","x":800,"y":548,"lo":540,"hi":556},{"s":"R","x":900,"y":546,"lo":539,"hi":553},{"s":"R","x":1000,"y":529,"lo":522,"hi":536},{"s":"R","x":1100,"y":548,"lo":541,"hi":555},{"s":"R","x":1200,"y":533,"lo":526,"hi":540},{"s":"R","x":1300,"y":531,"lo":524,"hi":538},{"s":"R","x":1400,"y":541,"lo":534,"hi":548},{"s":"R","x":1500,"y":534,"lo":527,"hi":541},{"s":"R","x":1600,"y":546,"lo":539,"hi":553},{"s":"R","x":1700,"y":546,"lo":539,"hi":553},{"s":"R","x":1800,"y":548,"lo":541,"hi":555},{"s":"R","x":1900,"y":536,"lo":529,"hi":543},{"s":"R","x":2000,"y":548,"lo":541,"hi":555},{"s":"R","x":2100,"y":550,"lo":543,"hi":557},{"s":"R","x":2200,"y":548,"lo":541,"hi":555},{"s":"R","x":2300,"y":553,"lo":546,"hi":560},{"s":"R","x":2400,"y":555,"lo":548,"hi":562},{"s":"R","x":2500,"y":553,"lo":546,"hi":560},{"s":"R","x":2600,"y":555,"lo":548,"hi":562},{"s":"R","x":2700,"y":557,"lo":550,"hi":564},{"s":"R","x":2800,"y":557,"lo":550,"hi":564},{"s":"R","x":2900,"y":559,"lo":552,"hi":566},{"s":"R","x":3000,"y":560,"lo":553,"hi":567},{"s":"R","x":3100,"y":560,"lo":553,"hi":567},{"s":"R","x":3200,"y":562,"lo":555,"hi":569},{"s":"R","x":3300,"y":562,"lo":555,"hi":569},{"s":"R","x":3400,"y":562,"lo":555,"hi":569},{"s":"R","x":3500,"y":560,"lo":553,"hi":567},{"s":"R","x":3600,"y":562,"lo":555,"hi":569},{"s":"R","x":3700,"y":565,"lo":558,"hi":572},{"s":"R","x":3800,"y":565,"lo":558,"hi":572},{"s":"R","x":3900,"y":565,"lo":558,"hi":572},{"s":"R","x":4000,"y":567,"lo":560,"hi":574},{"s":"R","x":4100,"y":567,"lo":560,"hi":574},{"s":"R","x":4200,"y":565,"lo":558,"hi":572},{"s":"R","x":4300,"y":567,"lo":560,"hi":574},{"s":"R","x":4400,"y":570,"lo":563,"hi":577},{"s":"R","x":4500,"y":568,"lo":561,"hi":575},{"s":"R","x":4600,"y":568,"lo":561,"hi":575},{"s":"R","x":4700,"y":570,"lo":563,"hi":577},{"s":"R","x":4800,"y":570,"lo":563,"hi":577},{"s":"R","x":4900,"y":569,"lo":562,"hi":576}
]
},
"spacing":34,
"resolve":{"scale":{"color":"independent","strokeDash":"independent","fill":"independent"},"legend":{"color":"independent","strokeDash":"independent","fill":"independent"}},
"vconcat":[
 {"hconcat":[
  {"width":317,"height":232,"title":{"text":"Cheetah-Direction","fontSize":16,"offset":4},
   "encoding":{"x":{"field":"x","type":"quantitative","title":"(a)  T³GDT wo G","scale":{"domain":[0,5000],"nice":false},"axis":{"format":"d","values":[0,1000,2000,3000,4000,5000],"titleX":146,"titleY":44}}},
   "layer":[
    {"data":{"name":"base"},"mark":{"type":"area","opacity":0.4,"clip":true},"encoding":{"y":{"field":"lo","type":"quantitative","scale":{"domain":[-1195,1300],"nice":false,"zero":false},"axis":{"title":null,"format":"d","values":[-1000,-500,0,500,1000]}},"y2":{"field":"hi"},"fill":{"field":"s","type":"nominal","scale":{"domain":["F","B","VF","VB","_"],"range":["#3b7cc8","#e8483e","#3b7cc8","#e8483e","#000000"]},"legend":null}}},
    {"data":{"name":"woG"},"mark":{"type":"area","opacity":0.4,"clip":true},"encoding":{"y":{"field":"lo","type":"quantitative","scale":{"domain":[-1195,1300],"nice":false,"zero":false},"axis":{"title":null,"format":"d","values":[-1000,-500,0,500,1000]}},"y2":{"field":"hi"},"fill":{"field":"s","type":"nominal","scale":{"domain":["F","B","VF","VB","_"],"range":["#3b7cc8","#e8483e","#3b7cc8","#e8483e","#000000"]},"legend":null}}},
    {"data":{"name":"woG"},"mark":{"type":"line","strokeWidth":2,"clip":true},"encoding":{"y":{"field":"y","type":"quantitative","scale":{"domain":[-1195,1300],"nice":false,"zero":false},"axis":{"title":null,"format":"d","values":[-1000,-500,0,500,1000]}},
      "color":{"field":"s","type":"nominal","scale":{"domain":["F","B","VF","VB"],"range":["#3b7cc8","#e8483e","#3b7cc8","#e8483e"]},"legend":{"title":null,"legendX":138,"legendY":71,"labelExpr":"datum.value=='F'?'T³GDT, Forward':datum.value=='B'?'T³GDT, Backward':datum.value=='VF'?'T³GDT w/o G, Forward':'T³GDT w/o G, Backward'"}},
      "strokeDash":{"field":"s","type":"nominal","scale":{"domain":["F","B","VF","VB"],"range":[[1,0],[1,0],[6,3],[6,3]]},"legend":{"title":null,"legendX":138,"legendY":71,"labelExpr":"datum.value=='F'?'T³GDT, Forward':datum.value=='B'?'T³GDT, Backward':datum.value=='VF'?'T³GDT w/o G, Forward':'T³GDT w/o G, Backward'"}}}},
    {"data":{"name":"base"},"mark":{"type":"line","strokeWidth":2,"clip":true},"encoding":{"y":{"field":"y","type":"quantitative","scale":{"domain":[-1195,1300],"nice":false,"zero":false},"axis":{"title":null,"format":"d","values":[-1000,-500,0,500,1000]}},
      "color":{"field":"s","type":"nominal","scale":{"domain":["F","B","VF","VB"],"range":["#3b7cc8","#e8483e","#3b7cc8","#e8483e"]},"legend":{"title":null,"legendX":138,"legendY":71,"labelExpr":"datum.value=='F'?'T³GDT, Forward':datum.value=='B'?'T³GDT, Backward':datum.value=='VF'?'T³GDT w/o G, Forward':'T³GDT w/o G, Backward'"}},
      "strokeDash":{"field":"s","type":"nominal","scale":{"domain":["F","B","VF","VB"],"range":[[1,0],[1,0],[6,3],[6,3]]},"legend":{"title":null,"legendX":138,"legendY":71,"labelExpr":"datum.value=='F'?'T³GDT, Forward':datum.value=='B'?'T³GDT, Backward':datum.value=='VF'?'T³GDT w/o G, Forward':'T³GDT w/o G, Backward'"}}}}
   ]},
  {"width":317,"height":232,"title":{"text":"Cheetah-Direction","fontSize":16,"offset":4},
   "encoding":{"x":{"field":"x","type":"quantitative","title":"(b)  T³GDT wo A","scale":{"domain":[0,5000],"nice":false},"axis":{"format":"d","values":[0,1000,2000,3000,4000,5000],"titleX":150,"titleY":44}}},
   "layer":[
    {"data":{"name":"base"},"mark":{"type":"area","opacity":0.4,"clip":true},"encoding":{"y":{"field":"lo","type":"quantitative","scale":{"domain":[-1195,1300],"nice":false,"zero":false},"axis":{"title":null,"format":"d","values":[-1000,-500,0,500,1000]}},"y2":{"field":"hi"},"fill":{"field":"s","type":"nominal","scale":{"domain":["F","B","VF","VB","_"],"range":["#3b7cc8","#e8483e","#3b7cc8","#e8483e","#000000"]},"legend":null}}},
    {"data":{"name":"woA"},"mark":{"type":"area","opacity":0.4,"clip":true},"encoding":{"y":{"field":"lo","type":"quantitative","scale":{"domain":[-1195,1300],"nice":false,"zero":false},"axis":{"title":null,"format":"d","values":[-1000,-500,0,500,1000]}},"y2":{"field":"hi"},"fill":{"field":"s","type":"nominal","scale":{"domain":["F","B","VF","VB","_"],"range":["#3b7cc8","#e8483e","#3b7cc8","#e8483e","#000000"]},"legend":null}}},
    {"data":{"name":"woA"},"mark":{"type":"line","strokeWidth":2,"clip":true},"encoding":{"y":{"field":"y","type":"quantitative","scale":{"domain":[-1195,1300],"nice":false,"zero":false},"axis":{"title":null,"format":"d","values":[-1000,-500,0,500,1000]}},
      "color":{"field":"s","type":"nominal","scale":{"domain":["F","B","VF","VB"],"range":["#3b7cc8","#e8483e","#3b7cc8","#e8483e"]},"legend":{"title":null,"legendX":10,"legendY":142,"labelExpr":"datum.value=='F'?'T³GDT, Forward':datum.value=='B'?'T³GDT, Backward':datum.value=='VF'?'T³GDT w/o A, Forward':'T³GDT w/o A, Backward'"}},
      "strokeDash":{"field":"s","type":"nominal","scale":{"domain":["F","B","VF","VB"],"range":[[1,0],[1,0],[6,3],[6,3]]},"legend":{"title":null,"legendX":10,"legendY":142,"labelExpr":"datum.value=='F'?'T³GDT, Forward':datum.value=='B'?'T³GDT, Backward':datum.value=='VF'?'T³GDT w/o A, Forward':'T³GDT w/o A, Backward'"}}}},
    {"data":{"name":"base"},"mark":{"type":"line","strokeWidth":2,"clip":true},"encoding":{"y":{"field":"y","type":"quantitative","scale":{"domain":[-1195,1300],"nice":false,"zero":false},"axis":{"title":null,"format":"d","values":[-1000,-500,0,500,1000]}},
      "color":{"field":"s","type":"nominal","scale":{"domain":["F","B","VF","VB"],"range":["#3b7cc8","#e8483e","#3b7cc8","#e8483e"]},"legend":{"title":null,"legendX":10,"legendY":142,"labelExpr":"datum.value=='F'?'T³GDT, Forward':datum.value=='B'?'T³GDT, Backward':datum.value=='VF'?'T³GDT w/o A, Forward':'T³GDT w/o A, Backward'"}},
      "strokeDash":{"field":"s","type":"nominal","scale":{"domain":["F","B","VF","VB"],"range":[[1,0],[1,0],[6,3],[6,3]]},"legend":{"title":null,"legendX":10,"legendY":142,"labelExpr":"datum.value=='F'?'T³GDT, Forward':datum.value=='B'?'T³GDT, Backward':datum.value=='VF'?'T³GDT w/o A, Forward':'T³GDT w/o A, Backward'"}}}}
   ]}
 ],"spacing":20,"resolve":{"scale":{"color":"independent","strokeDash":"independent","fill":"independent"},"legend":{"color":"independent","strokeDash":"independent","fill":"independent"}}},
 {"hconcat":[
  {"width":317,"height":231,"title":{"text":"Cheetah-Direction","fontSize":16,"offset":4},
   "encoding":{"x":{"field":"x","type":"quantitative","title":"(c)  T³GDT wo T","scale":{"domain":[0,5000],"nice":false},"axis":{"format":"d","values":[0,1000,2000,3000,4000,5000],"titleX":146,"titleY":44}}},
   "layer":[
    {"data":{"name":"base"},"mark":{"type":"area","opacity":0.4,"clip":true},"encoding":{"y":{"field":"lo","type":"quantitative","scale":{"domain":[-1182,1293],"nice":false,"zero":false},"axis":{"title":null,"format":"d","values":[-1000,-500,0,500,1000]}},"y2":{"field":"hi"},"fill":{"field":"s","type":"nominal","scale":{"domain":["F","B","VF","VB","_"],"range":["#3b7cc8","#e8483e","#3b7cc8","#e8483e","#000000"]},"legend":null}}},
    {"data":{"name":"woT"},"mark":{"type":"area","opacity":0.4,"clip":true},"encoding":{"y":{"field":"lo","type":"quantitative","scale":{"domain":[-1182,1293],"nice":false,"zero":false},"axis":{"title":null,"format":"d","values":[-1000,-500,0,500,1000]}},"y2":{"field":"hi"},"fill":{"field":"s","type":"nominal","scale":{"domain":["F","B","VF","VB","_"],"range":["#3b7cc8","#e8483e","#3b7cc8","#e8483e","#000000"]},"legend":null}}},
    {"data":{"name":"woT"},"mark":{"type":"line","strokeWidth":2,"clip":true},"encoding":{"y":{"field":"y","type":"quantitative","scale":{"domain":[-1182,1293],"nice":false,"zero":false},"axis":{"title":null,"format":"d","values":[-1000,-500,0,500,1000]}},
      "color":{"field":"s","type":"nominal","scale":{"domain":["F","B","VF","VB"],"range":["#3b7cc8","#e8483e","#3b7cc8","#e8483e"]},"legend":{"title":null,"legendX":12,"legendY":144,"labelExpr":"datum.value=='F'?'T³GDT, Forward':datum.value=='B'?'T³GDT, Backward':datum.value=='VF'?'T³GDT w/o T, Forward':'T³GDT w/o T, Backward'"}},
      "strokeDash":{"field":"s","type":"nominal","scale":{"domain":["F","B","VF","VB"],"range":[[1,0],[1,0],[6,3],[6,3]]},"legend":{"title":null,"legendX":12,"legendY":144,"labelExpr":"datum.value=='F'?'T³GDT, Forward':datum.value=='B'?'T³GDT, Backward':datum.value=='VF'?'T³GDT w/o T, Forward':'T³GDT w/o T, Backward'"}}}},
    {"data":{"name":"base"},"mark":{"type":"line","strokeWidth":2,"clip":true},"encoding":{"y":{"field":"y","type":"quantitative","scale":{"domain":[-1182,1293],"nice":false,"zero":false},"axis":{"title":null,"format":"d","values":[-1000,-500,0,500,1000]}},
      "color":{"field":"s","type":"nominal","scale":{"domain":["F","B","VF","VB"],"range":["#3b7cc8","#e8483e","#3b7cc8","#e8483e"]},"legend":{"title":null,"legendX":12,"legendY":144,"labelExpr":"datum.value=='F'?'T³GDT, Forward':datum.value=='B'?'T³GDT, Backward':datum.value=='VF'?'T³GDT w/o T, Forward':'T³GDT w/o T, Backward'"}},
      "strokeDash":{"field":"s","type":"nominal","scale":{"domain":["F","B","VF","VB"],"range":[[1,0],[1,0],[6,3],[6,3]]},"legend":{"title":null,"legendX":12,"legendY":144,"labelExpr":"datum.value=='F'?'T³GDT, Forward':datum.value=='B'?'T³GDT, Backward':datum.value=='VF'?'T³GDT w/o T, Forward':'T³GDT w/o T, Backward'"}}}}
   ]},
  {"width":321,"height":231,"title":{"text":"Cheetah-Velocity","fontSize":20,"offset":1},
   "data":{"name":"vel"},
   "encoding":{"x":{"field":"x","type":"quantitative","title":"(d)  All Variants","scale":{"domain":[0,5000],"nice":false},"axis":{"format":"d","values":[0,1000,2000,3000,4000,5000],"titleX":154,"titleY":44}}},
   "layer":[
    {"mark":{"type":"area","opacity":0.35,"clip":true},"encoding":{"y":{"field":"lo","type":"quantitative","scale":{"domain":[-286,-8],"nice":false,"zero":false},"axis":{"title":null,"format":"d","values":[-250,-200,-150,-100,-50]}},"y2":{"field":"hi"},"fill":{"field":"s","type":"nominal","scale":{"domain":["A","G","T","R","_"],"range":["#1f77b4","#ff7f0e","#2ca02c","#d62728","#000000"]},"legend":null}}},
    {"mark":{"type":"line","strokeWidth":2,"clip":true},"encoding":{"y":{"field":"y","type":"quantitative","scale":{"domain":[-286,-8],"nice":false,"zero":false},"axis":{"title":null,"format":"d","values":[-250,-200,-150,-100,-50]}},
      "color":{"field":"s","type":"nominal","scale":{"domain":["A","G","T","R"],"range":["#1f77b4","#ff7f0e","#2ca02c","#d62728"]},"legend":{"title":null,"legendX":202,"legendY":147,"rowPadding":-12,"labelFontSize":15,"labelExpr":"datum.value=='A'?'T³GDT w/o A':datum.value=='G'?'T³GDT w/o G':datum.value=='T'?'T³GDT w/o T':'T³GDT'"}}}}
   ]}
 ],"spacing":21,"resolve":{"scale":{"color":"independent","strokeDash":"independent","fill":"independent"},"legend":{"color":"independent","strokeDash":"independent","fill":"independent"}}},
 {"hconcat":[
  {"width":148,"height":228,"data":{"values":[{"x":0}]},"mark":{"type":"point","opacity":0},"view":{"stroke":null}},
  {"width":325,"height":228,"title":{"text":"Pick&Place","fontSize":19,"offset":6},
   "data":{"name":"pick"},
   "encoding":{"x":{"field":"x","type":"quantitative","title":"(e)  All Variants","scale":{"domain":[0,5000],"nice":false},"axis":{"format":"d","values":[0,1000,2000,3000,4000,5000],"titleX":155,"titleY":45}}},
   "layer":[
    {"mark":{"type":"area","opacity":0.35,"clip":true},"encoding":{"y":{"field":"lo","type":"quantitative","scale":{"domain":[-50,600],"nice":false,"zero":false},"axis":{"title":null,"format":"d","values":[0,100,200,300,400,500,600]}},"y2":{"field":"hi"},"fill":{"field":"s","type":"nominal","scale":{"domain":["A","G","T","R","_"],"range":["#1f77b4","#ff7f0e","#2ca02c","#d62728","#000000"]},"legend":null}}},
    {"mark":{"type":"line","strokeWidth":2,"clip":true},"encoding":{"y":{"field":"y","type":"quantitative","scale":{"domain":[-50,600],"nice":false,"zero":false},"axis":{"title":null,"format":"d","values":[0,100,200,300,400,500,600]}},
      "color":{"field":"s","type":"nominal","scale":{"domain":["A","G","T","R"],"range":["#1f77b4","#ff7f0e","#2ca02c","#d62728"]},"legend":{"title":null,"legendX":208,"legendY":140,"rowPadding":-12,"labelFontSize":15,"labelExpr":"datum.value=='A'?'T³GDT w/o A':datum.value=='G'?'T³GDT w/o G':datum.value=='T'?'T³GDT w/o T':'T³GDT'"}}}}
   ]}
 ],"spacing":10,"resolve":{"scale":{"color":"independent","strokeDash":"independent","fill":"independent"},"legend":{"color":"independent","strokeDash":"independent","fill":"independent"}}}
]
}
